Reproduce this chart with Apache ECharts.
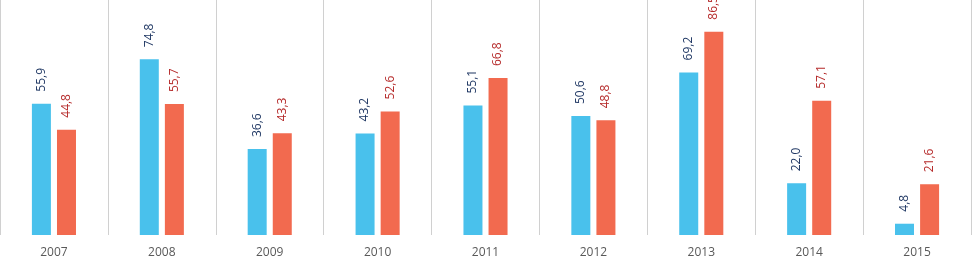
<!DOCTYPE html>
<html>
<head>
<meta charset="utf-8">
<script src="https://cdn.jsdelivr.net/npm/echarts@6/dist/echarts.min.js"></script>
<style>
  html, body { margin: 0; padding: 0; background: #fff; }
  #chart { width: 972px; height: 259px; }
</style>
</head>
<body>
<div id="chart"></div>
<script>
const years = ['2007', '2008', '2009', '2010', '2011', '2012', '2013', '2014', '2015'];
const blueValues = [55.9, 74.8, 36.6, 43.2, 55.1, 50.6, 69.2, 22.0, 4.8];
const redValues = [44.8, 55.7, 43.3, 52.6, 66.8, 48.8, 86.5, 57.1, 21.6];

const fontFamily = '"Open Sans", "Noto Sans", sans-serif';

function commaLabel(params) {
    return params.value.toFixed(1).replace('.', ',');
}

function barSeries(name, data, barColor, labelColor) {
    return {
        name: name,
        type: 'bar',
        data: data,
        barWidth: 19,
        barGap: '32%',
        itemStyle: { color: barColor },
        label: {
            show: true,
            position: 'top',
            rotate: 90,
            align: 'left',
            verticalAlign: 'middle',
            distance: 12,
            color: labelColor,
            fontFamily: fontFamily,
            fontSize: 12,
            formatter: commaLabel
        }
    };
}

const chart = echarts.init(document.getElementById('chart'));

chart.setOption({
    animation: false,
    grid: { left: 0, right: 1, top: 0, bottom: 24 },
    xAxis: {
        type: 'category',
        data: years,
        axisLine: { show: false },
        axisTick: { show: false },
        axisLabel: {
            color: '#595959',
            fontFamily: fontFamily,
            fontSize: 12,
            margin: 12
        },
        splitLine: {
            show: true,
            lineStyle: { color: '#d0d0d0', width: 1 }
        }
    },
    yAxis: {
        type: 'value',
        min: 0,
        max: 100,
        show: false,
        splitLine: { show: false }
    },
    series: [
        barSeries('blue', blueValues, '#49c1ec', '#203864'),
        barSeries('red', redValues, '#f26a4f', '#b52a2a')
    ]
});
</script>
</body>
</html>
